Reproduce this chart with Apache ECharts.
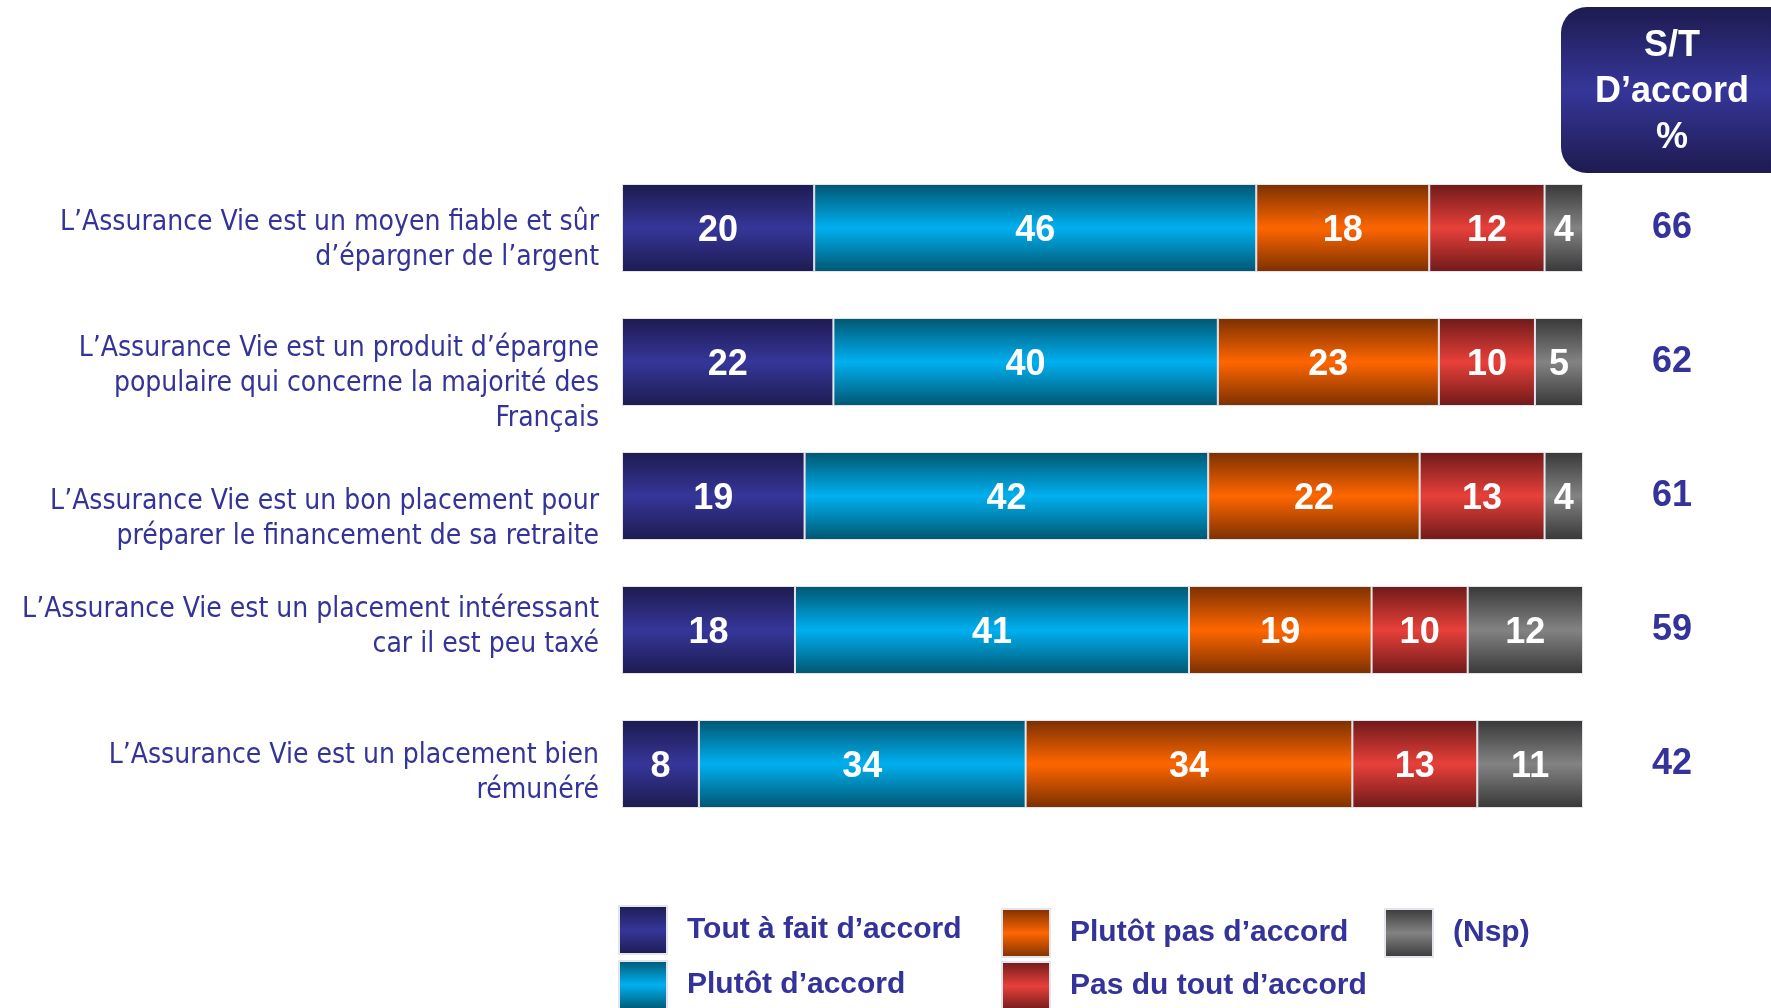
<!DOCTYPE html>
<html>
<head>
<meta charset="utf-8">
<script src="https://cdn.jsdelivr.net/npm/echarts@6/dist/echarts.min.js"></script>
<style>
  html, body { margin: 0; padding: 0; background: #fff; }
  #chart { width: 1771px; height: 1008px; }
</style>
</head>
<body>
<div id="chart"></div>
<script>
// libellés des questions (de haut en bas)
const categories = [
  'L\u2019Assurance Vie est un moyen fiable et sûr\nd\u2019épargner de l\u2019argent',
  'L\u2019Assurance Vie est un produit d\u2019épargne\npopulaire qui concerne la majorité des\nFrançais',
  'L\u2019Assurance Vie est un bon placement pour\npréparer le financement de sa retraite',
  'L\u2019Assurance Vie est un placement intéressant\ncar il est peu taxé',
  'L\u2019Assurance Vie est un placement bien\nrémunéré'
]
const seriesNames = ['Tout à fait d\u2019accord', 'Plutôt d\u2019accord', 'Plutôt pas d\u2019accord', 'Pas du tout d\u2019accord', '(Nsp)']
const toutAFait = [20, 22, 19, 18, 8]
const plutot = [46, 40, 42, 41, 34]
const plutotPas = [18, 23, 22, 19, 34]
const pasDuTout = [12, 10, 13, 10, 13]
const nsp = [4, 5, 4, 12, 11]
// S/T D'accord %
const sousTotal = [66, 62, 61, 59, 42]

const navy = '#333399'
const barFont = 'Liberation Sans, Arial, sans-serif'

// dégradé vertical : sombre en haut et en bas, clair au milieu
function grad (dark, light) {
  return new echarts.graphic.LinearGradient(0, 0, 0, 1, [
    { offset: 0, color: dark },
    { offset: 0.5, color: light },
    { offset: 1, color: dark }
  ])
}
const colors = [
  grad('#1d1b4f', '#36369a'),
  grad('#005670', '#00b0f0'),
  grad('#7a3000', '#ff6600'),
  grad('#6e1a1a', '#e8403a'),
  grad('#383838', '#838383')
]
const values = [toutAFait, plutot, plutotPas, pasDuTout, nsp]

const series = seriesNames.map(function (name, i) {
  return {
    name: name,
    type: 'bar',
    stack: 'total',
    barWidth: 88,
    data: values[i],
    itemStyle: {
      color: colors[i],
      borderColor: '#e4e4ec',
      borderWidth: 1
    },
    label: {
      show: true,
      position: 'inside',
      offset: [0, 3],
      color: '#fff',
      fontFamily: barFont,
      fontWeight: 'bold',
      fontSize: 36
    }
  }
})

// positions des légendes [left, top]
const legendPos = [[618, 905], [618, 960], [1001, 908], [1001, 961], [1384, 908]]
const legends = seriesNames.map(function (name, i) {
  return {
    data: [name],
    left: legendPos[i][0],
    top: legendPos[i][1],
    padding: 0,
    itemWidth: 48,
    itemHeight: 48,
    icon: 'rect',
    selectedMode: false,
    textStyle: {
      color: navy,
      fontFamily: 'Liberation Sans Narrow, Arial Narrow, Liberation Sans, sans-serif',
      fontWeight: 'bold',
      fontSize: 30,
      padding: [4, 0, 0, 15]
    }
  }
})

// décalage vertical des libellés : ligne vide en haut (t) ou en bas (b)
const labelSpacer = ['t1', 't2', 't3', 'b4', 't5']

const myChart = echarts.init(document.getElementById('chart'))
myChart.setOption({
  animation: false,
  legend: legends,
  grid: {
    left: 622,
    right: 188,
    top: 161,
    height: 670
  },
  xAxis: {
    type: 'value',
    min: 0,
    max: 100,
    show: false
  },
  yAxis: [
    {
      type: 'category',
      data: categories,
      inverse: true,
      axisLine: { show: false },
      axisTick: { show: false },
      axisLabel: {
        margin: 23,
        color: navy,
        fontFamily: 'DejaVu Sans Condensed, Noto Sans, sans-serif',
        fontSize: 28,
        lineHeight: 35,
        formatter: function (value, index) {
          const s = labelSpacer[index]
          if (s[0] === 't') {
            return '{' + s + '| }\n' + value
          }
          return value + '\n{' + s + '| }'
        },
        rich: {
          t1: { lineHeight: 24, fontSize: 1 },
          t2: { lineHeight: 43, fontSize: 1 },
          t3: { lineHeight: 46, fontSize: 1 },
          b4: { lineHeight: 6, fontSize: 1 },
          t5: { lineHeight: 19, fontSize: 1 }
        }
      }
    },
    {
      type: 'category',
      data: categories,
      inverse: true,
      position: 'right',
      axisLine: { show: false },
      axisTick: { show: false },
      axisLabel: {
        margin: 89,
        align: 'center',
        color: navy,
        fontFamily: barFont,
        fontWeight: 'bold',
        fontSize: 36,
        formatter: function (value, index) {
          return sousTotal[index]
        }
      }
    }
  ],
  graphic: [
    {
      type: 'rect',
      shape: { x: 1561, y: 7, width: 240, height: 166, r: 26 },
      style: { fill: grad('#1d1b4f', '#36369a') }
    },
    {
      type: 'text',
      x: 1672,
      y: 92,
      style: {
        text: 'S/T\nD\u2019accord\n%',
        fill: '#fff',
        fontFamily: barFont,
        fontWeight: 'bold',
        fontSize: 36,
        lineHeight: 46,
        align: 'center',
        verticalAlign: 'middle'
      }
    }
  ],
  series: series
})
</script>
</body>
</html>
